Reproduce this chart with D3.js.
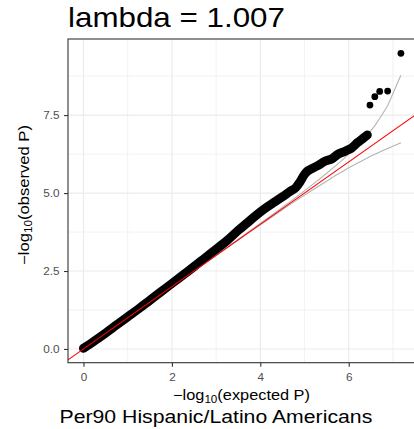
<!DOCTYPE html>
<html>
<head>
<meta charset="utf-8">
<script src="https://cdn.jsdelivr.net/npm/d3@7"></script>
<style>
  body { margin: 0; background: #fff; }
  svg { display: block; }
  text { font-family: "Liberation Sans", Arial, Helvetica, sans-serif; }
</style>
</head>
<body>
<svg id="chart" width="414" height="429"></svg>
<script>
// QQ plot of association p-values: -log10(expected P) vs -log10(observed P)

// main body of the QQ curve (dense points)
const expectedBand = [0, 0.25, 0.5, 0.75, 1.0, 1.25, 1.5, 1.75, 2.0, 2.25, 2.5, 2.75, 3.0, 3.25, 3.5, 3.7, 3.9, 4.1, 4.33, 4.5, 4.67, 4.8, 4.9, 5.0, 5.08, 5.16, 5.3, 5.46, 5.62, 5.75, 5.93, 6.07, 6.2, 6.33, 6.42];
const observedBand = [0.02, 0.26, 0.51, 0.77, 1.03, 1.29, 1.56, 1.83, 2.1, 2.37, 2.64, 2.92, 3.2, 3.48, 3.8, 4.04, 4.28, 4.5, 4.72, 4.88, 5.05, 5.17, 5.36, 5.6, 5.72, 5.78, 5.88, 6.02, 6.1, 6.24, 6.35, 6.45, 6.62, 6.76, 6.86];

// the few strongest signals
const expectedTop = [6.48, 6.59, 6.70, 6.88, 7.18];
const observedTop = [7.82, 8.09, 8.26, 8.27, 9.48];

// 95% band of the expected order statistics
const ciExpected = [0, 2, 3.18, 3.70, 4.18, 4.70, 5.18, 5.48, 5.70, 5.88, 6.00, 6.18, 6.28, 6.40, 6.48, 6.58, 6.70, 6.88, 7.18];
const ciUpper    = [0, 2, 3.19, 3.72, 4.21, 4.75, 5.27, 5.61, 5.87, 6.09, 6.26, 6.50, 6.64, 6.84, 6.97, 7.14, 7.39, 7.80, 8.78];
const ciLower    = [0, 2, 3.17, 3.69, 4.15, 4.66, 5.10, 5.36, 5.56, 5.71, 5.81, 5.95, 6.02, 6.11, 6.17, 6.24, 6.32, 6.43, 6.61];

// null line y = x
const refIntercept = 0;
const refSlope = 1;

// axes
const xTicks = [0, 2, 4, 6];
const xMinorTicks = [1, 3, 5, 7];
const yTicks = [0, 2.5, 5, 7.5];
const yTickLabels = ["0.0", "2.5", "5.0", "7.5"];
const yMinorTicks = [1.25, 3.75, 6.25, 8.75];

const titleText = "lambda = 1.007";
const captionText = "Per90 Hispanic/Latino Americans";

const svg = d3.select("#chart");
const panel = { left: 68, right: 417.7, top: 39, bottom: 362.7 };

const x = d3.scaleLinear().domain([-0.35, 7.56]).range([panel.left, panel.right]);
const y = d3.scaleLinear().domain([-0.44, 9.94]).range([panel.bottom, panel.top]);

svg.append("rect").attr("width", 414).attr("height", 429).attr("fill", "#fff");

svg.append("defs").append("clipPath").attr("id", "panel-clip")
  .append("rect")
  .attr("x", panel.left).attr("y", panel.top)
  .attr("width", panel.right - panel.left).attr("height", panel.bottom - panel.top);

// grid
const grid = svg.append("g");
grid.selectAll(".xminor").data(xMinorTicks).join("line")
  .attr("x1", d => x(d)).attr("x2", d => x(d))
  .attr("y1", panel.top).attr("y2", panel.bottom)
  .attr("stroke", "#efefef").attr("stroke-width", 0.8);
grid.selectAll(".yminor").data(yMinorTicks).join("line")
  .attr("y1", d => y(d)).attr("y2", d => y(d))
  .attr("x1", panel.left).attr("x2", panel.right)
  .attr("stroke", "#efefef").attr("stroke-width", 0.8);
grid.selectAll(".xmajor").data(xTicks).join("line")
  .attr("x1", d => x(d)).attr("x2", d => x(d))
  .attr("y1", panel.top).attr("y2", panel.bottom)
  .attr("stroke", "#ebebeb").attr("stroke-width", 1.2);
grid.selectAll(".ymajor").data(yTicks).join("line")
  .attr("y1", d => y(d)).attr("y2", d => y(d))
  .attr("x1", panel.left).attr("x2", panel.right)
  .attr("stroke", "#ebebeb").attr("stroke-width", 1.2);

const plot = svg.append("g").attr("clip-path", "url(#panel-clip)");
const line = d3.line().x(d => x(d[0])).y(d => y(d[1]));

// confidence band edges
const upperPts = ciExpected.map((e, i) => [e, ciUpper[i]]);
const lowerPts = ciExpected.map((e, i) => [e, ciLower[i]]);
[upperPts, lowerPts].forEach(pts => {
  plot.append("path").attr("d", line(pts))
    .attr("fill", "none").attr("stroke", "#b4b4b4").attr("stroke-width", 1.1);
});

// points
const bandPts = expectedBand.map((e, i) => [e, observedBand[i]]);
plot.append("path").attr("d", line.curve(d3.curveMonotoneX)(bandPts))
  .attr("fill", "none").attr("stroke", "#000").attr("stroke-width", 9)
  .attr("stroke-linecap", "round").attr("stroke-linejoin", "round");
line.curve(d3.curveLinear);
plot.selectAll(".band-pt").data(bandPts).join("circle")
  .attr("cx", d => x(d[0])).attr("cy", d => y(d[1])).attr("r", 3.4).attr("fill", "#000");
const topPts = expectedTop.map((e, i) => [e, observedTop[i]]);
plot.selectAll(".top-pt").data(topPts).join("circle")
  .attr("cx", d => x(d[0])).attr("cy", d => y(d[1])).attr("r", 3.4).attr("fill", "#000");

// reference line
const [x0, x1] = x.domain();
plot.append("line")
  .attr("x1", x(x0)).attr("y1", y(refIntercept + refSlope * x0))
  .attr("x2", x(x1)).attr("y2", y(refIntercept + refSlope * x1))
  .attr("stroke", "#ff0000").attr("stroke-width", 1.1);

// panel border
svg.append("rect")
  .attr("x", panel.left).attr("y", panel.top)
  .attr("width", panel.right - panel.left).attr("height", panel.bottom - panel.top)
  .attr("fill", "none").attr("stroke", "#333").attr("stroke-width", 1.1);

const textStretch = 1.15;

// x axis
const xAxis = svg.append("g").attr("transform", `translate(0,${panel.bottom})`)
  .call(d3.axisBottom(x).tickValues(xTicks).tickFormat(d3.format("d")).tickSize(4).tickPadding(6.6));
xAxis.select(".domain").remove();
xAxis.selectAll("line").attr("stroke", "#333").attr("stroke-width", 1.1);
xAxis.selectAll("text")
  .attr("fill", "#4d4d4d").attr("font-size", 10.2)
  .attr("transform", `scale(${textStretch},1)`);

// y axis
const yAxis = svg.append("g").attr("transform", `translate(${panel.left},0)`)
  .call(d3.axisLeft(y).tickValues(yTicks).tickFormat((d, i) => yTickLabels[i]).tickSize(4).tickPadding(4.5));
yAxis.select(".domain").remove();
yAxis.selectAll("line").attr("stroke", "#333").attr("stroke-width", 1.1);
yAxis.selectAll("text")
  .attr("fill", "#4d4d4d").attr("font-size", 10.2)
  .attr("x", -8.5 / textStretch)
  .attr("transform", `scale(${textStretch},1)`);

// stretch a text element along its baseline to a given length
function fitText(sel, length, tx, ty, rot) {
  const w = sel.node().getBBox().width;
  sel.attr("transform", `translate(${tx},${ty}) rotate(${rot}) scale(${length / w},1)`);
}

// axis titles
function logLabel(g, word) {
  const t = g.append("text").attr("font-size", 14).attr("fill", "#000").attr("text-anchor", "middle");
  t.append("tspan").text("\u2212log");
  t.append("tspan").attr("font-size", 10).attr("dy", 3).text("10");
  t.append("tspan").attr("dy", -3).text(`(${word} P)`);
  return t;
}
const xTitle = logLabel(svg, "expected");
fitText(xTitle, 137, 241.5, 400, 0);
const yTitle = logLabel(svg, "observed");
fitText(yTitle, 140, 29, 195, -90);

// title and caption
const title = svg.append("text").attr("font-size", 27).attr("fill", "#000").text(titleText);
fitText(title, 217, 68, 26.7, 0);
const caption = svg.append("text").attr("font-size", 18.5).attr("fill", "#000").text(captionText);
fitText(caption, 313, 59.5, 422.5, 0);
</script>
</body>
</html>
